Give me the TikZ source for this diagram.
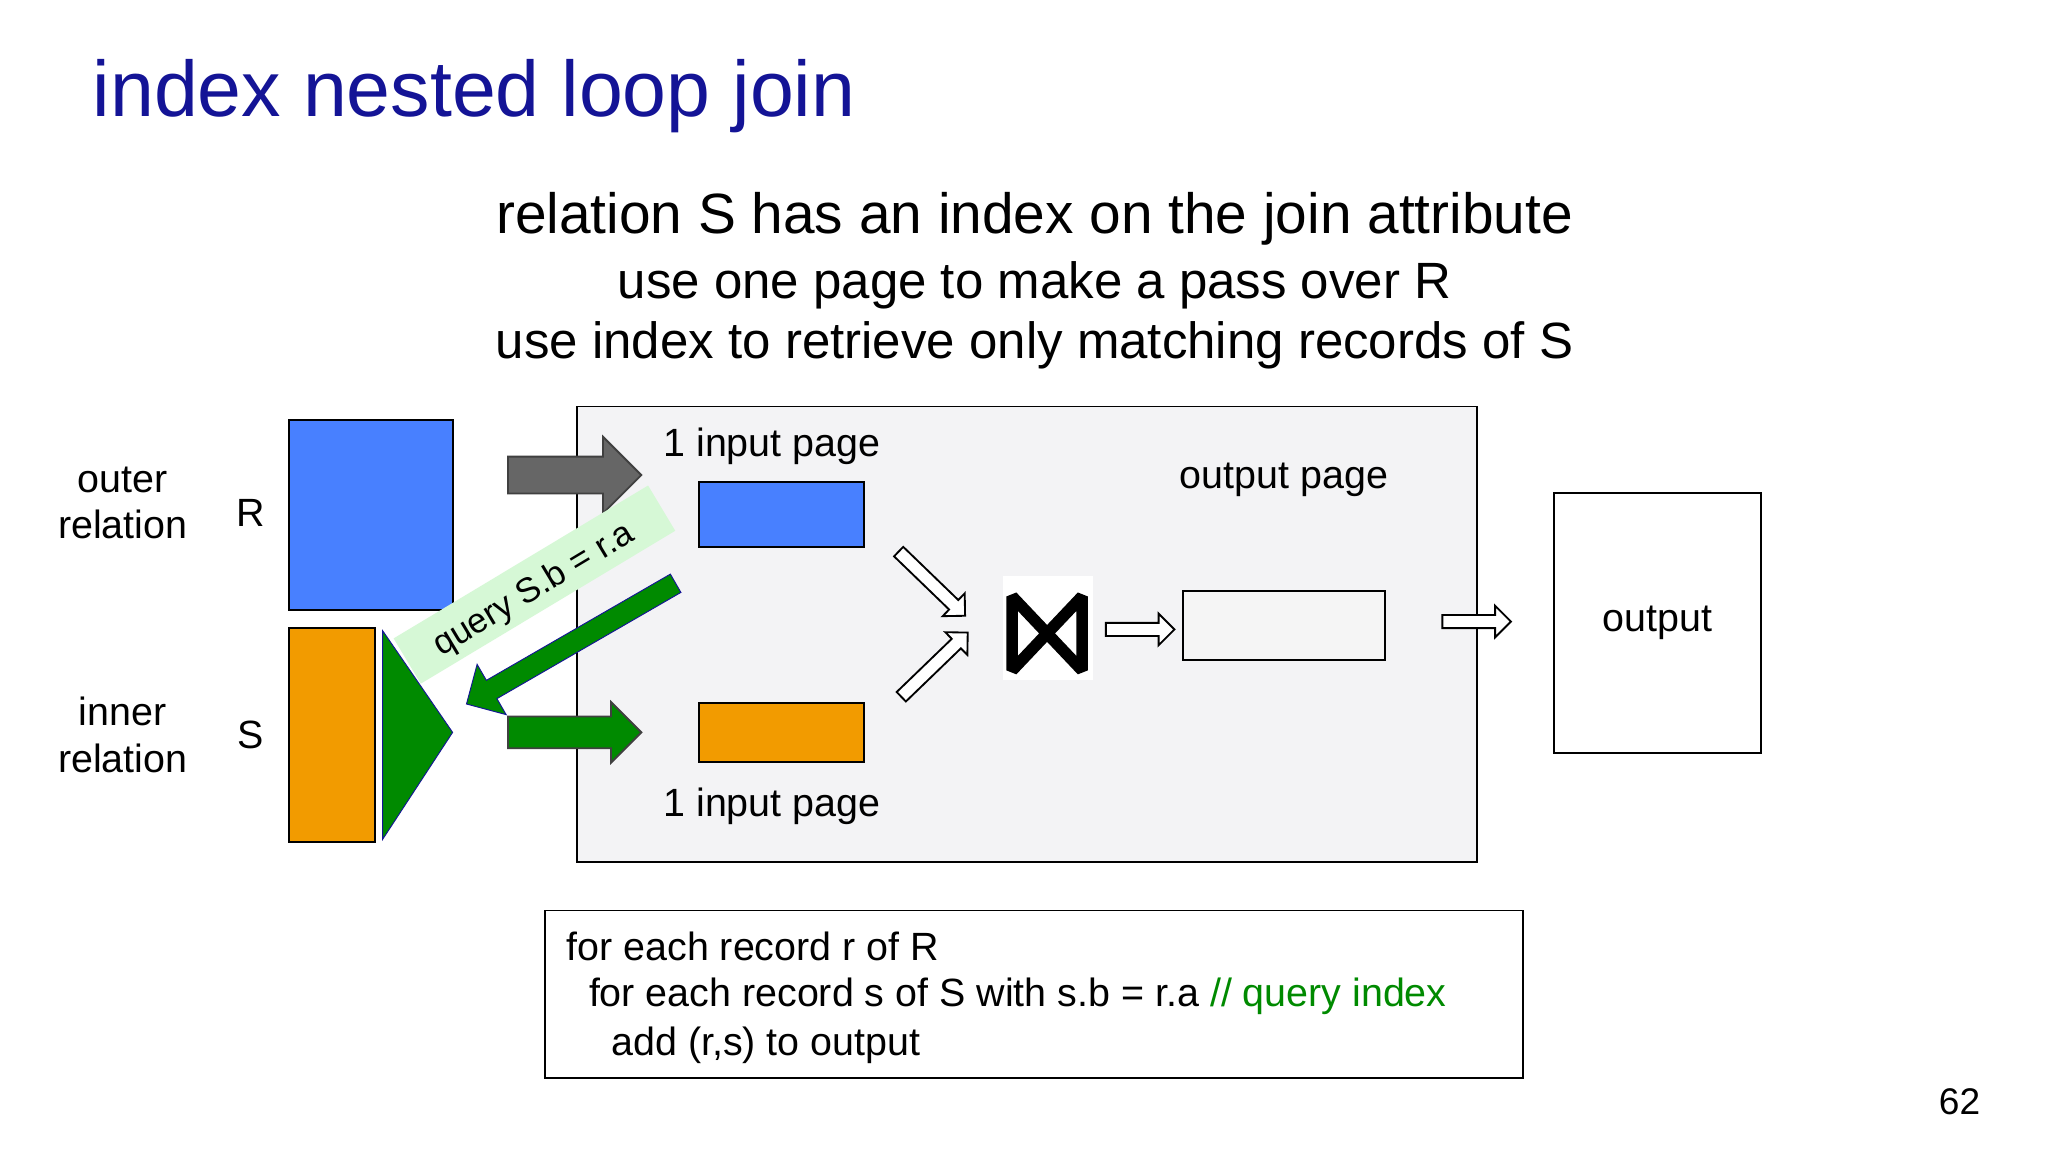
\documentclass[tikz,border=0pt]{standalone}
\usepackage{fontspec}
\setmainfont{Liberation Sans}
\definecolor{navy}{RGB}{20,20,150}
\definecolor{relblue}{RGB}{72,128,255}
\definecolor{relorange}{RGB}{242,155,0}
\definecolor{idxgreen}{RGB}{0,138,0}
\definecolor{bandgreen}{RGB}{214,248,214}
\definecolor{boxgray}{RGB}{243,243,245}
% style, tail x, tail y, angle, length, shaft half width, head half width
\newcommand\fatarrow[7]{%
  \filldraw[#1,shift={(#2,#3)},rotate=#4] (0,-#6)--(#5-#7,-#6)--(#5-#7,-#7)--(#5,0)
    --(#5-#7,#7)--(#5-#7,#6)--(0,#6)--cycle;}
\tikzset{
  page/.style={draw=black,thick,inner sep=0pt},
  openarrow/.style={draw=black,thick,fill=white},
  lbl/.style={font=\fontsize{17}{20}\selectfont,align=center,inner sep=0pt}
}
\begin{document}
\begin{tikzpicture}[x=0.02cm,y=-0.02cm]
\useasboundingbox[fill=white](0,0) rectangle (1552,873);
% title and heading
\node[anchor=base west,text=navy,font=\fontsize{34}{38}\selectfont,inner sep=0pt] (title) at (70,88) {index nested loop join};
\node[lbl,font=\fontsize{24.5}{28}\selectfont,anchor=base] (head1) at (784,177) {relation S has an index on the join attribute};
\node[lbl,font=\fontsize{22}{26}\selectfont,anchor=base] (head2) at (784,226) {use one page to make a pass over R};
\node[lbl,font=\fontsize{22}{26}\selectfont,anchor=base] (head3) at (784,272) {use index to retrieve only matching records of S};
% relations
\node[lbl] (outer) at (93,381) {outer\\relation};
\node[lbl] (rname) at (190,389) {R};
\node[lbl] (inner) at (93,557) {inner\\relation};
\node[lbl] (sname) at (190,557) {S};
\fill[relblue,draw=black,thick] (219,318) rectangle (343,462);
\fill[relorange,draw=black,thick] (219,476) rectangle (284,638);
\fill[idxgreen,draw=navy] (290,478) -- (343,555) -- (290,636) -- cycle;
% buffer
\draw[thick,fill=boxgray] (437,308) rectangle (1119,653);
\fatarrow{fill=black!60,draw=black!75,thick}{385}{360}{0}{101}{14}{29}
\fatarrow{fill=idxgreen,draw=black!75,thick}{385}{555}{0}{101}{12}{23}
\node[fill=bandgreen,minimum width=4.5cm,minimum height=0.8cm,rotate=31,inner sep=0pt] (band) at (405,443) {};
\node[rotate=31,font=\fontsize{15}{18}\selectfont,inner sep=0pt] (query) at (405,447) {query S.b = r.a};
\fatarrow{fill=idxgreen,draw=navy}{512}{442}{210}{183}{8}{22}
\node[lbl] (rin) at (585,338) {1 input page};
\node[lbl] (sin) at (585,611) {1 input page};
\node[page,fill=relblue,minimum width=2.5cm,minimum height=0.98cm] (rpage) at (592,390) {};
\node[page,fill=relorange,minimum width=2.5cm,minimum height=0.9cm] (spage) at (592,555) {};
\fatarrow{openarrow}{681}{418}{-44}{70}{5}{12}
\fatarrow{openarrow}{683}{528}{44}{70}{5}{12}
\node[fill=white,minimum width=1.36cm,minimum height=1.58cm,inner sep=0pt] (join) at (794,476) {};
\draw[line width=5pt,line join=bevel] (767,452) -- (767,508) -- (820,452) -- (820,508) -- cycle;
\fatarrow{openarrow}{838}{477}{0}{52}{5}{12}
\node[lbl] (outlbl) at (973,364) {output page};
\node[page,fill=black!4,minimum width=3.06cm,minimum height=1.04cm] (opage) at (973,474) {};
\fatarrow{openarrow}{1093}{471}{0}{52}{5}{12}
\node[page,fill=white,minimum width=3.14cm,minimum height=3.94cm,font=\fontsize{17}{20}\selectfont] (output) at (1256,472) {output};
% pseudo code
\draw[thick] (413,690) rectangle (1154,817);
\node[anchor=base west,font=\fontsize{17}{20}\selectfont,inner sep=0pt] (code1) at (429,728) {for each record r of R};
\node[anchor=base west,font=\fontsize{17}{20}\selectfont,inner sep=0pt] (code2) at (446,763) {for each record s of S with s.b = r.a \textcolor{idxgreen}{// query index}};
\node[anchor=base west,font=\fontsize{17}{20}\selectfont,inner sep=0pt] (code3) at (463,800) {add (r,s) to output};
\node[font=\fontsize{16}{19}\selectfont,inner sep=0pt] (pnum) at (1485,835) {62};
\end{tikzpicture}
\end{document}
